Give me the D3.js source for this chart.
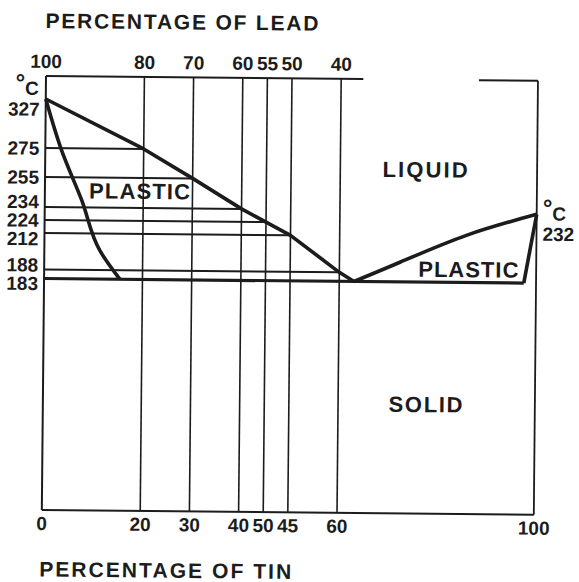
<!DOCTYPE html>
<meta charset="utf-8">
<html>

<head>
  <title>Lead-tin solder diagram</title>
  <script src="https://d3js.org/d3.v7.min.js"></script>
  <style>
    body { margin: 0; background: #fff; }
    svg { display: block; }
    text { font-family: "Liberation Sans", Arial, sans-serif; font-weight: bold; fill: #1c1c1c; }
  </style>
</head>

<body>
  <div id="chart"></div>
</body>
<script>

  // tin % of each vertical line, labels as printed (45 and 50 are swapped in the original)
  var tinTicks = [0, 20, 30, 40, 45, 50, 60, 100];
  var tinLabels = ["0", "20", "30", "40", "50", "45", "60", "100"];
  var leadLabels = ["100", "80", "70", "60", "55", "50", "40"];

  var tempTicks = [327, 275, 255, 234, 224, 212, 188, 183];

  // horizontal lines and the tin % where each one meets the liquidus
  var lineTemps = [275, 255, 234, 224, 212, 188];
  var lineEnds = [20, 30, 40, 45, 50, 60];

  var liqLeftTin = [0, 20, 30, 40, 45, 50, 60, 63];
  var liqLeftTemp = [327, 275, 255, 234, 224, 212, 188, 183];
  var liqRightTin = [63, 72.3, 85.9, 100];
  var liqRightTemp = [183, 195, 213.8, 232];
  var solLeftTin = [0, 3.3, 7.5, 11.3, 15.4];
  var solLeftTemp = [327, 273.6, 239, 200.7, 183];
  var solRightTin = [100, 97.5];
  var solRightTemp = [232, 183];
  var eutecticTemp = 183;
  var eutecticEnd = 97.5;

  var margin = { top: 76, left: 46 },
    width = 492,
    height = 434;

  var svg = d3.select("#chart")
    .append("svg")
    .attr("width", 579)
    .attr("height", 582);

  // the scan is turned a little clockwise
  var g = svg.append("g")
    .attr("transform", "translate(" + margin.left + "," + margin.top + ") rotate(0.55)");

  var x = d3.scaleLinear()
    .domain([0, 100])
    .range([0, width]);

  // temperature axis of the drawing is not to scale
  var y = d3.scaleLinear()
    .domain(tempTicks)
    .range([23, 72, 101, 131, 144, 157, 193.5, 202.5]);

  var ink = "#1c1c1c";

  function zip(a, b) { return a.map(function (v, i) { return [v, b[i]]; }); }

  var line = d3.line()
    .x(function (d) { return x(d[0]); })
    .y(function (d) { return y(d[1]); });

  // frame
  g.append("line").attr("x1", 0).attr("x2", 0).attr("y1", 0).attr("y2", height)
    .attr("stroke", ink).attr("stroke-width", 2);
  g.append("line").attr("x1", x(100)).attr("x2", x(100)).attr("y1", 0).attr("y2", height)
    .attr("stroke", ink).attr("stroke-width", 1.8);
  g.append("line").attr("x1", 0).attr("x2", x(100)).attr("y1", height).attr("y2", height)
    .attr("stroke", ink).attr("stroke-width", 2);
  g.selectAll(".top")
    .data([[0, 64.5], [88, 100]])
    .enter()
    .append("line")
    .attr("x1", function (d) { return x(d[0]); })
    .attr("x2", function (d) { return x(d[1]); })
    .attr("y1", 0).attr("y2", 0)
    .attr("stroke", ink).attr("stroke-width", 2);

  // vertical lines
  g.selectAll(".vline")
    .data(tinTicks.slice(1, -1))
    .enter()
    .append("line")
    .attr("x1", function (d) { return x(d); })
    .attr("x2", function (d) { return x(d); })
    .attr("y1", 0).attr("y2", height)
    .attr("stroke", ink).attr("stroke-width", 1.6);

  // temperature lines
  g.selectAll(".hline")
    .data(lineTemps)
    .enter()
    .append("line")
    .attr("x1", 0)
    .attr("x2", function (d, i) { return x(lineEnds[i]); })
    .attr("y1", function (d) { return y(d); })
    .attr("y2", function (d) { return y(d); })
    .attr("stroke", ink).attr("stroke-width", 2);

  g.append("line")
    .attr("x1", 0).attr("x2", x(eutecticEnd))
    .attr("y1", y(eutecticTemp)).attr("y2", y(eutecticTemp))
    .attr("stroke", ink).attr("stroke-width", 3.2);

  // liquidus and solidus
  var curves = [
    { pts: zip(liqLeftTin, liqLeftTemp), c: d3.curveLinear },
    { pts: zip(liqRightTin, liqRightTemp), c: d3.curveNatural },
    { pts: zip(solLeftTin, solLeftTemp), c: d3.curveMonotoneY },
    { pts: zip(solRightTin, solRightTemp), c: d3.curveLinear }
  ];
  curves.forEach(function (k) {
    g.append("path")
      .attr("d", line.curve(k.c)(k.pts))
      .attr("fill", "none")
      .attr("stroke", ink)
      .attr("stroke-width", 3.6)
      .attr("stroke-linejoin", "round");
  });

  // tick labels
  g.selectAll(".toplab")
    .data(leadLabels)
    .enter()
    .append("text")
    .attr("x", function (d, i) { return x(tinTicks[i]); })
    .attr("y", -8)
    .attr("text-anchor", "middle")
    .style("font-size", "19px")
    .text(function (d) { return d; });

  g.selectAll(".botlab")
    .data(tinLabels)
    .enter()
    .append("text")
    .attr("x", function (d, i) { return x(tinTicks[i]); })
    .attr("y", height + 20)
    .attr("text-anchor", "middle")
    .style("font-size", "19px")
    .text(function (d) { return d; });

  // push the crowded temperature labels apart
  var pos = tempTicks.map(function (t) { return y(t); });
  pos[0] = Math.max(pos[0], 33);
  for (var it = 0; it < 200; it++) {
    for (var i = 0; i < pos.length - 1; i++) {
      var gap = pos[i + 1] - pos[i];
      if (gap < 18.5) {
        var s = (18.5 - gap) / 2;
        pos[i] -= s;
        pos[i + 1] += s;
      }
    }
    pos[0] = Math.max(pos[0], 33);
  }

  g.selectAll(".templab")
    .data(tempTicks)
    .enter()
    .append("text")
    .attr("x", -6)
    .attr("y", function (d, i) { return pos[i]; })
    .attr("dy", "0.36em")
    .attr("text-anchor", "end")
    .style("font-size", "19px")
    .text(function (d) { return d; });

  function degC(px, py, anchor) {
    var t = g.append("text")
      .attr("x", px).attr("y", py)
      .attr("text-anchor", anchor);
    t.append("tspan").attr("dy", -4).style("font-size", "24px").text("°");
    t.append("tspan").attr("dy", 4).style("font-size", "19px").text("C");
  }
  degC(-7, 19, "end");
  degC(x(100) + 6, y(232) + 6, "start");
  g.append("text")
    .attr("x", x(100) + 6).attr("y", y(232) + 26.5)
    .style("font-size", "19px")
    .text("232");

  // region names
  var regions = [
    { t: "PLASTIC", cx: 94.7, by: 122, w: 101 },
    { t: "LIQUID", cx: 380, by: 97.7, w: 85 },
    { t: "PLASTIC", cx: 424.2, by: 197.2, w: 100 },
    { t: "SOLID", cx: 382.7, by: 332.5, w: 74 }
  ];
  regions.forEach(function (r) {
    g.append("text")
      .attr("x", r.cx - r.w / 2)
      .attr("y", r.by)
      .attr("textLength", r.w)
      .attr("lengthAdjust", "spacing")
      .style("font-size", "22px")
      .text(r.t);
  });

  // axis titles
  g.append("text")
    .attr("x", -1).attr("y", -48)
    .attr("textLength", 273)
    .attr("lengthAdjust", "spacing")
    .style("font-size", "21px")
    .text("PERCENTAGE OF LEAD");

  g.append("text")
    .attr("x", -2).attr("y", 500.5)
    .attr("textLength", 252)
    .attr("lengthAdjust", "spacing")
    .style("font-size", "21px")
    .text("PERCENTAGE OF TIN");

</script>

</html>
